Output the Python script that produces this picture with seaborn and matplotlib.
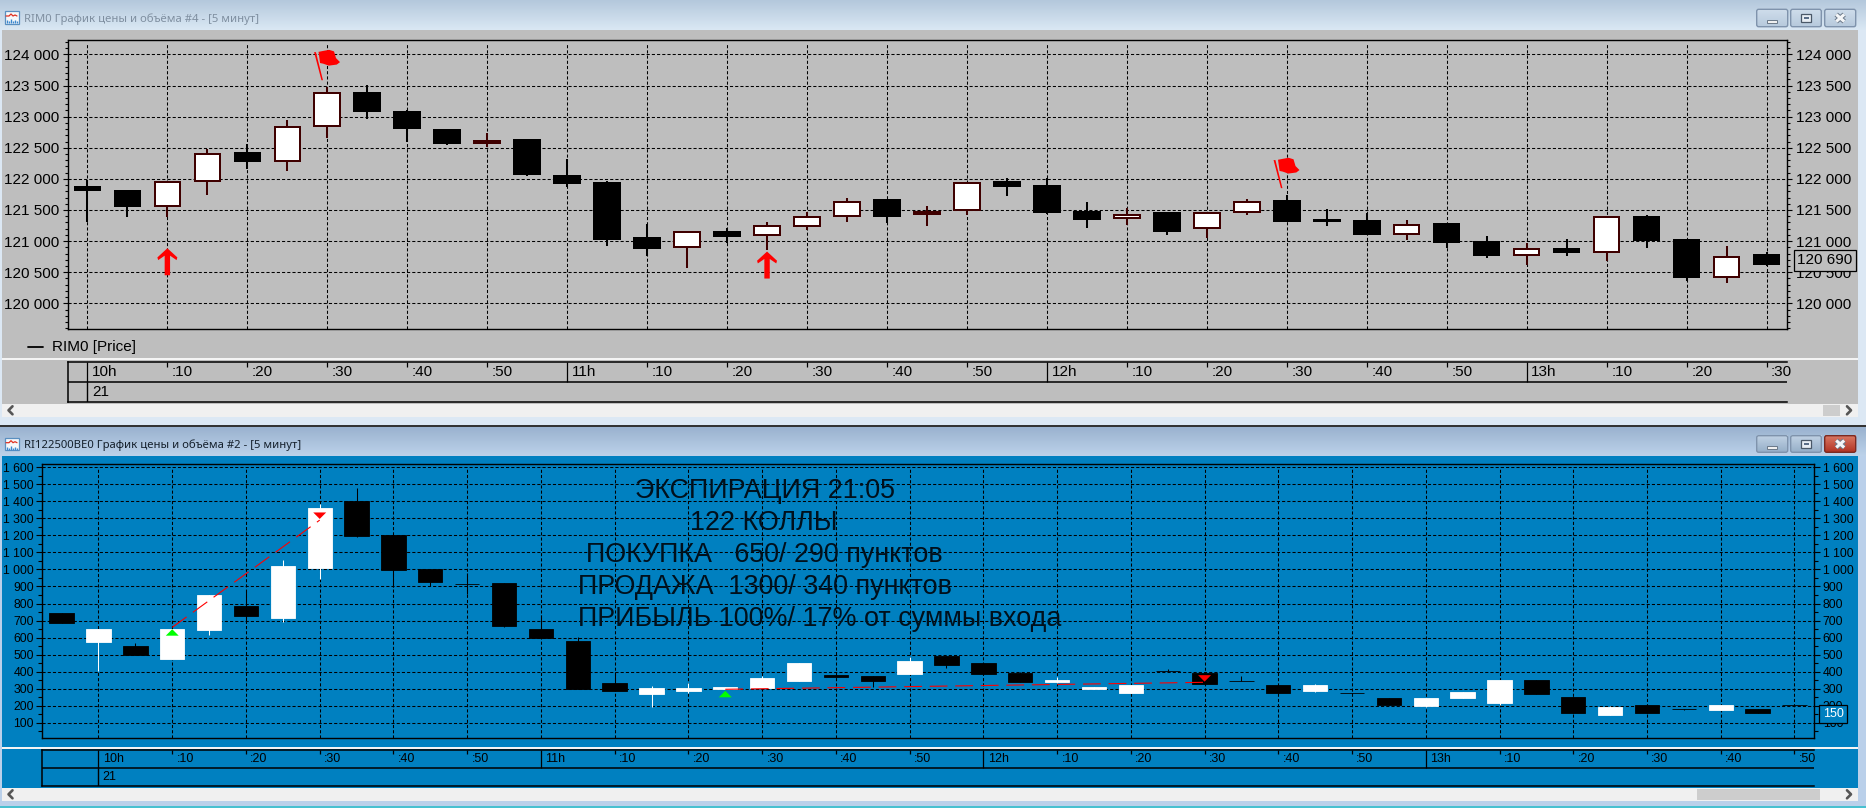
import numpy as np
import matplotlib
matplotlib.use("Agg")
import matplotlib.pyplot as plt
import seaborn as sns
from matplotlib.path import Path
from matplotlib.patches import Rectangle, FancyBboxPatch
from matplotlib.ticker import FuncFormatter, MultipleLocator

W, H = 1866, 808

# ---------- data: RIM0 (top panel) ----------
rim_open = [121885,121815,121555,121945,122440,122275,122840,123405,123085,122810,122565,122635,122070,121945,
            121060,120885,121155,121075,121230,121390,121670,121425,121480,121960,121895,121480,121360,121460,
            121190,121445,121655,121350,121335,121105,121285,120995,120765,120885,120815,121405,121030,120400,120785]
rim_close = [121810,121555,121970,122420,122275,122855,123400,123080,122805,122565,122620,122065,121920,121025,
             120880,121165,121070,121265,121410,121650,121390,121480,121955,121875,121455,121345,121440,121150,
             121470,121650,121310,121310,121105,121280,120975,120765,120885,120815,121410,121000,120410,120765,120620]
rim_high = [121980,121815,121970,122480,122555,122945,123470,123505,123100,122810,122730,122635,122320,121965,
            121275,121165,121205,121305,121465,121690,121670,121565,121955,122010,122020,121630,121525,121460,
            121470,121675,121740,121510,121455,121340,121285,121080,120975,121035,121410,121420,121030,120920,120820]
rim_low = [121310,121390,121390,121745,122165,122130,122660,122965,122595,122545,122515,122045,121875,120925,
           120760,120575,120975,120855,121180,121310,121295,121240,121425,121725,121435,121210,121255,121100,
           121045,121425,121310,121240,121105,121015,120885,120735,120615,120760,120680,120895,120365,120330,120605]
rim_last = 120690
rim_ticks = list(range(120000, 124001, 500))
rim_time_labels = ["10h",":10",":20",":30",":40",":50","11h",":10",":20",":30",":40",":50",
                   "12h",":10",":20",":30",":40",":50","13h",":10",":20",":30"]
arrow_idx, arrow_price = [2, 17], [120668, 120615]
flag_idx, flag_price = [6, 30], [123833, 122098]

# ---------- data: RI122500BE0 (bottom panel) ----------
opt_idx = list(range(-1, 47))
opt_open = [744,574,550,474,644,785,715,1009,1400,1201,1001,917,921,648,580,333,269,286,300,304,347,380,372,386,
            492,449,392,339,300,274,402,392,343,321,288,272,245,198,245,216,351,251,145,204,178,174,180,202]
opt_close = [688,648,498,650,850,727,1020,1361,1199,999,926,917,668,597,298,286,302,304,308,362,449,370,345,462,
             439,386,339,351,310,321,402,327,343,276,321,272,202,245,280,351,269,157,192,157,178,204,157,202]
opt_high = [744,648,566,650,850,880,1056,1385,1479,1201,1001,977,921,733,605,400,316,331,308,374,449,380,372,486,
            492,449,400,368,310,321,417,392,374,321,327,276,245,245,280,351,351,251,198,204,182,204,180,202]
opt_low = [688,404,498,474,615,685,693,944,1193,899,903,856,660,597,298,286,194,272,300,304,347,370,312,386,
           423,386,339,331,300,274,402,327,343,276,282,268,202,190,245,204,269,157,145,157,174,174,157,202]
opt_last = 150
opt_ticks = list(range(100, 1601, 100))
opt_time_labels = ["10h",":10",":20",":30",":40",":50","11h",":10",":20",":30",":40",":50",
                   "12h",":10",":20",":30",":40",":50","13h",":10",":20",":30",":40",":50"]
buy_idx, buy_price = [2, 17], [630, 268]
sell_idx, sell_price = [6, 30], [1316, 360]
trade1_idx, trade1_price = [2, 6], [660, 1290]
trade2_idx, trade2_price = [17, 30], [296, 337]
note_lines = ["ЭКСПИРАЦИЯ 21:05", "122 КОЛЛЫ", "ПОКУПКА   650/ 290 пунктов",
              "ПРОДАЖА  1300/ 340 пунктов", "ПРИБЫЛЬ 100%/ 17% от суммы входа"]
date_label = "21"

GRAY, BLUE = "#BEBEBE", "#0080C0"
DARKRED = "#3F0000"
FONT = ["Liberation Sans", "DejaVu Sans"]

sns.set_theme(style="ticks")
plt.rcParams["font.family"] = FONT
plt.rcParams["axes.unicode_minus"] = False

fig = plt.figure(figsize=(W / 100, H / 100), dpi=100, facecolor="#DCE8F4")


def px_axes(l, t, r, b, **kw):
    return fig.add_axes([l / W, 1 - b / H, (r - l) / W, (b - t) / H], **kw)


# ---------- window chrome, in pixel coordinates ----------
bg = fig.add_axes([0, 0, 1, 1], zorder=-5)
bg.set_axis_off()


def grad(x0, x1, y0, y1, c0, c1, zorder=1):
    c0, c1 = np.array(matplotlib.colors.to_rgb(c0)), np.array(matplotlib.colors.to_rgb(c1))
    t = np.linspace(0, 1, 64)[:, None, None]
    bg.imshow(c0 + (c1 - c0) * t, extent=(x0, x1, y1, y0), aspect="auto", zorder=zorder, interpolation="bilinear")


def rect(x0, y0, x1, y1, c, zorder=2, **kw):
    bg.add_patch(Rectangle((x0, y0), x1 - x0, y1 - y0, facecolor=c, edgecolor="none", zorder=zorder, **kw))


grad(0, W, 0, 30, "#B4C8DC", "#DAE8F4")
rect(0, 30, W, 425, "#DCE8F4", zorder=0)
rect(2, 30, 1858, 404, GRAY)
rect(2, 358, 1858, 360, "#F4F4F4", zorder=3)
rect(2, 404, 1858, 416.5, "#F0F0F0")
rect(0, 425, W, 427, "#333333")
grad(0, W, 427, 456, "#9AB2CF", "#BCD2EA")
rect(0, 456, W, 808, "#BAD0EA", zorder=0)
rect(2, 456, 1858, 788, BLUE)
rect(2, 746.5, 1858, 748.5, "#F4F4F4", zorder=3)
rect(2, 788, 1858, 800.5, "#F0F0F0")
rect(0, 805.5, W, 808, "#48C0D0")
rect(1823, 404.5, 1840, 416, "#CDCDCD", zorder=3)
rect(1697, 788.5, 1820, 800, "#CDCDCD", zorder=3)
for yc in (410.3, 794.3):
    bg.plot([12.5, 8.5, 12.5], [yc - 4, yc, yc + 4], color="#555555", lw=1.9, zorder=4)
    bg.plot([1847, 1851, 1847], [yc - 4, yc, yc + 4], color="#555555", lw=1.9, zorder=4)


def button(x0, x1, y0, y1, top, low, kind):
    grad(x0, x1, y0, y1, top, low, zorder=3)
    bg.add_patch(FancyBboxPatch((x0, y0), x1 - x0, y1 - y0, boxstyle="round,pad=0,rounding_size=2",
                                fc="none", ec="#7F93AC" if kind != "xr" else "#7A2A22", lw=1.0, zorder=4))
    xc, yc = (x0 + x1) / 2, (y0 + y1) / 2
    if kind == "min":
        bg.add_patch(Rectangle((xc - 5, yc + 1.5), 10, 3, fc="#F0F0F0", ec="#6A7888", lw=0.7, zorder=5))
    elif kind == "max":
        bg.add_patch(Rectangle((xc - 5, yc - 4), 10, 8, fc="#E8EEF4", ec="#4A5868", lw=0.9, zorder=5))
        bg.add_patch(Rectangle((xc - 2.5, yc - 1), 5, 2, fc="#5A6E88", ec="none", zorder=6))
    else:
        for sgn in (1, -1):
            bg.plot([xc - 4, xc + 4], [yc - 3.5 * sgn, yc + 3.5 * sgn], color="#6A7888", lw=3.6, zorder=5,
                    solid_capstyle="butt")
        for sgn in (1, -1):
            bg.plot([xc - 4, xc + 4], [yc - 3.5 * sgn, yc + 3.5 * sgn], color="#F4F6F8", lw=2.2, zorder=6,
                    solid_capstyle="butt")


for (y0, y1, t1, l1, t2, l2) in [(9.3, 26.7, "#CFDDEB", "#B6C9DC", "#CFDDEB", "#B6C9DC"),
                                 (435.7, 452.3, "#C2D3E5", "#96AFC8", "#DB7A66", "#B23424")]:
    button(1756.7, 1787.7, y0, y1, t1, l1, "min")
    button(1790.7, 1821.3, y0, y1, t1, l1, "max")
    button(1824.7, 1855.7, y0, y1, t2, l2, "x" if t2 == "#CFDDEB" else "xr")

for y0 in (11, 437.7):
    bg.add_patch(Rectangle((4.5, y0), 14, 12.5, fc="#F6F8FA", ec="#5A8FC0", lw=0.9, zorder=3))
    bg.plot([6, 9, 11, 13, 15, 17], [y0 + 5, y0 + 5, y0 + 3, y0 + 5, y0 + 4, y0 + 5], color="#E03020", lw=0.9, zorder=4)
    bg.vlines([7, 9, 11, 13, 15, 17], [y0 + 9, y0 + 10, y0 + 8, y0 + 10, y0 + 9, y0 + 10], y0 + 12, color="#3A88D0",
              lw=1.0, zorder=4)

bg.set_xlim(0, W)
bg.set_ylim(H, 0)


# ---------- charts ----------
def candles(ax, x, o, c, hi, lo, up_face, up_edge, down_col, wick_up, wick_dn, width, inner_w, inset, min_h, wick_lw,
            edge_lw):
    x, o, c, hi, lo = map(np.asarray, (x, o, c, hi, lo))
    up = c > o
    ax.vlines(x[up], lo[up], hi[up], color=wick_up, lw=wick_lw, zorder=1.8)
    ax.vlines(x[~up], lo[~up], hi[~up], color=wick_dn, lw=wick_lw, zorder=1.8)
    ax.bar(x[up], (c - o)[up], bottom=o[up], width=width, color=up_edge, edgecolor=up_edge, linewidth=edge_lw, zorder=2)
    ax.bar(x[~up], (c - o)[~up], bottom=o[~up], width=width, color=down_col, edgecolor=down_col, linewidth=edge_lw,
           zorder=2)
    if inset > 0:
        tall = up & ((c - o) > min_h)
        ax.bar(x[tall], (c - o)[tall] - 2 * inset, bottom=o[tall] + inset, width=inner_w, color=up_face,
               linewidth=0, zorder=2.1)


def style_price_axis(ax, ticks, minor, ylim, xlim, fs, maj, mnr, grid_pos, vtop, pad):
    ax.set_xlim(*xlim)
    ax.set_ylim(*ylim)
    ax.set_yticks(ticks)
    ax.yaxis.set_minor_locator(MultipleLocator(minor))
    ax.yaxis.set_major_formatter(FuncFormatter(lambda v, _: f"{v:,.0f}".replace(",", " ")))
    ax.tick_params(axis="y", which="major", left=True, right=True, labelleft=True, labelright=True, length=maj,
                   width=0.8, labelsize=fs, pad=pad, colors="black")
    ax.tick_params(axis="y", which="minor", left=True, right=True, length=mnr, width=0.8, colors="black")
    ax.set_xticks([])
    ax.grid(axis="y", which="major", ls=(0, (3, 2)), lw=0.75, color="black")
    ax.set_axisbelow(True)
    ax.vlines(grid_pos, 0, vtop, transform=ax.get_xaxis_transform(), color="black", lw=0.75,
              linestyles=[(0, (3, 2))], zorder=0.8)
    for s in ax.spines.values():
        s.set_visible(True)
        s.set_linewidth(1.0)
        s.set_color("black")
    ax.patch.set_visible(False)


def time_axis(l, t, r, b, xlim, labels, fs, off):
    ax = px_axes(l, t, r, b, zorder=2)
    ax.patch.set_visible(False)
    ax.set_xlim(*xlim)
    ax.set_ylim(2, 0)
    ax.set_xticks([])
    ax.set_yticks([])
    for k, s in ax.spines.items():
        s.set_visible(k in ("top", "bottom", "left"))
        s.set_linewidth(1.1)
        s.set_color("black")
    ax.hlines(1, xlim[0], xlim[1], color="black", lw=1.1)
    ax.vlines(0, 1, 2, color="black", lw=1.0)
    for i, lab in enumerate(labels):
        pos = 2 * i
        ax.vlines(pos, 0, 1 if lab.endswith("h") else 0.22, color="black", lw=0.9)
        ax.annotate(lab, (pos, 0.5), xytext=(off, 0), textcoords="offset points", ha="left", va="center",
                    fontsize=fs, color="black", annotation_clip=False)
    ax.annotate(date_label, (0, 1.5), xytext=(off, 0), textcoords="offset points", ha="left", va="center",
                fontsize=fs, color="black", annotation_clip=False)
    return ax


arrow_path = Path([(-.2, -1), (.2, -1), (.2, .45), (.68, .12), (.74, .32), (0, 1), (-.74, .32), (-.68, .12),
                   (-.2, .45), (-.2, -1)], closed=True)
_pole = Path([(-.86, .83), (-.74, .83), (-.28, -1), (-.38, -1), (-.86, .83)], closed=True)
_cloth = Path([(-.57, .85), (-.21, .92), (.12, .98), (.44, .88), (.57, .44), (.83, .18), (.62, .02), (.1, -.05),
               (-.27, .08), (-.47, .12), (-.57, .85)], closed=True)
flag_path = Path.make_compound_path(_pole, _cloth)
up_tri = Path([(-1, -.5), (1, -.5), (0, .5), (-1, -.5)], closed=True)
dn_tri = Path([(-1, .5), (1, .5), (0, -.5), (-1, .5)], closed=True)

# top panel
ax1 = px_axes(67.5, 39.5, 1787.3, 329.3, zorder=1)
x1 = np.arange(len(rim_open))
candles(ax1, x1, rim_open, rim_close, rim_high, rim_low, "white", DARKRED, "black", DARKRED, "black",
        0.69, 0.59, 32, 70, 1.45, 0)
style_price_axis(ax1, rim_ticks, 100, (119582, 124241), (-0.498, 42.52), 11, 3.6, 2.2,
                 np.arange(len(rim_time_labels)) * 2, 0.986, 2.6)
sns.scatterplot(x=arrow_idx, y=arrow_price, marker=arrow_path, color="#FF0000", s=378, linewidth=0, edgecolor="none",
                ax=ax1, legend=False, zorder=5)
sns.scatterplot(x=flag_idx, y=flag_price, marker=flag_path, color="#FF0000", s=488, linewidth=0, edgecolor="none",
                ax=ax1, legend=False, zorder=5)
ax1.set_xlim(-0.498, 42.52)
ax1.set_ylim(119582, 124241)
ax1.annotate(f"{rim_last:,}".replace(",", " "), (1, rim_last), xycoords=("axes fraction", "data"),
             xytext=(26.8, 0), textcoords="offset points", ha="center", va="center", fontsize=11, color="black",
             annotation_clip=False, zorder=10,
             bbox=dict(boxstyle="square,pad=0.22", fc=GRAY, ec="black", lw=0.9))
time_axis(67.5, 362.3, 1787.3, 402.3, (-0.498, 42.52), rim_time_labels, 11, 3.3)

# bottom panel
ax2 = px_axes(42.3, 464.3, 1814.4, 738.3, zorder=1)
candles(ax2, opt_idx, opt_open, opt_close, opt_high, opt_low, "white", "white", "black", "white", "black",
        0.66, 0.66, 0, 0, 0.75, 0.6)
style_price_axis(ax2, opt_ticks, 50, (8, 1618), (-1.524, 46.54), 8.8, 4.2, 2.6,
                 np.arange(len(opt_time_labels)) * 2, 0.989, 1.9)
sns.lineplot(x=trade1_idx, y=trade1_price, color="#FF0000", lw=0.8, linestyle=(0, (16, 7)), ax=ax2, legend=False,
             zorder=4, errorbar=None)
sns.lineplot(x=trade2_idx, y=trade2_price, color="#FF0000", lw=0.8, linestyle=(0, (16, 7)), ax=ax2, legend=False,
             zorder=4, errorbar=None)
sns.scatterplot(x=buy_idx, y=buy_price, marker=up_tri, color="#00FF00", s=87, linewidth=0, edgecolor="none", ax=ax2,
                legend=False, zorder=5)
sns.scatterplot(x=sell_idx, y=sell_price, marker=dn_tri, color="#FF0000", s=87, linewidth=0, edgecolor="none", ax=ax2,
                legend=False, zorder=5)
ax2.set_xlim(-1.524, 46.54)
ax2.set_ylim(8, 1618)
ax2.set_xlabel("")
ax2.set_ylabel("")
ax1.set_xlabel("")
ax1.set_ylabel("")
ax2.annotate(str(opt_last), (1, opt_last), xycoords=("axes fraction", "data"), xytext=(13.4, 0),
             textcoords="offset points", ha="center", va="center", fontsize=9, color="white", annotation_clip=False,
             zorder=10, bbox=dict(boxstyle="square,pad=0.25", fc=BLUE, ec="black", lw=0.9))
time_axis(42.3, 750.3, 1814.4, 786.3, (-1.524, 46.54), opt_time_labels, 9, 3.1)

# overlay texts
fg = fig.add_axes([0, 0, 1, 1], zorder=9)
fg.set_axis_off()
fg.set_xlim(0, W)
fg.set_ylim(H, 0)
fg.text(24, 19, "RIM0 График цены и объёма #4 - [5 минут]", fontsize=8.15, color="#7F8FA0", va="center", ha="left",
        family=["Noto Sans", "DejaVu Sans"])
fg.text(24, 445, "RI122500BE0 График цены и объёма #2 - [5 минут]", fontsize=8.15, color="#15202C", va="center",
        ha="left", family=["Noto Sans", "DejaVu Sans"])
fg.plot([27.7, 43], [347, 347], color="black", lw=1.3)
fg.text(52, 347, "RIM0 [Price]", fontsize=11, color="black", va="center", ha="left")

note_x = [635, 690, 586, 578, 578]
note_y = [490.5, 522.5, 554.5, 586.5, 618.5]
for s, nx, ny in zip(note_lines, note_x, note_y):
    fg.text(nx, ny, s, fontsize=19.4, color="#00101C", va="center", ha="left")

fig.savefig("out.png", dpi=100)
